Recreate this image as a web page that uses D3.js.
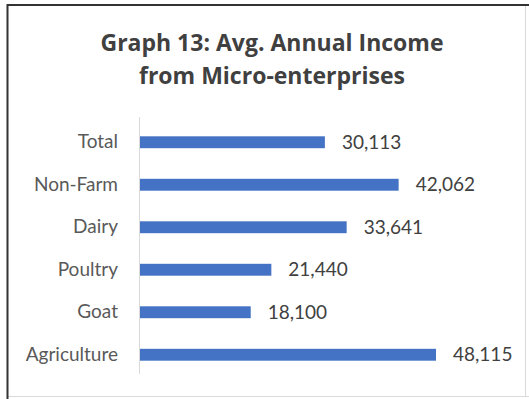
<!DOCTYPE html>
<html><head><meta charset="utf-8">
<script src="https://cdn.jsdelivr.net/npm/d3@7"></script>
<style>html,body{margin:0;padding:0;background:#fff;}svg{display:block;}</style>
</head><body>
<script>
const categories = ["Total","Non-Farm","Dairy","Poultry","Goat","Agriculture"];
const values = [30113, 42062, 33641, 21440, 18100, 48115];
const titleLines = ["Graph 13: Avg. Annual Income","from Micro-enterprises"];

const W = 529, H = 399;
const svg = d3.select("body").append("svg").attr("width", W).attr("height", H);
svg.append("rect").attr("width", W).attr("height", H).attr("fill", "#fff");

// frame
svg.append("line").attr("x1",525.5).attr("x2",525.5).attr("y1",5).attr("y2",396).attr("stroke","#d9d9d9").attr("stroke-width",1);
svg.append("line").attr("x1",7).attr("x2",529).attr("y1",396.5).attr("y2",396.5).attr("stroke","#d9d9d9").attr("stroke-width",1);
svg.append("line").attr("x1",7.5).attr("x2",7.5).attr("y1",4).attr("y2",399).attr("stroke","#333").attr("stroke-width",2);
svg.append("line").attr("x1",7).attr("x2",529).attr("y1",5).attr("y2",5).attr("stroke","#333").attr("stroke-width",2);

const font = "Lato, 'Open Sans', sans-serif";
const titleFont = "'Open Sans', Lato, sans-serif";
svg.selectAll("text.title").data(titleLines).join("text")
  .attr("class","title")
  .attr("x", 272).attr("y", (d,i) => 51 + i*33)
  .attr("text-anchor","middle")
  .attr("font-family", titleFont).attr("font-weight","bold").attr("font-size", 23)
  .attr("fill","#404040").text(d => d);

const x0 = 139;
const x = d3.scaleLinear().domain([0, 48115]).range([x0, 436]);
const y = d3.scaleBand().domain(categories).range([121, 376]).paddingInner(0.72).paddingOuter(0.36);

// axis
const yAxis = d3.axisLeft(y).tickSize(0).tickPadding(21);
const g = svg.append("g").attr("transform", `translate(${x0},0)`).call(yAxis);
g.select(".domain").attr("stroke","#d9d9d9").attr("d", "M0.5,117V374");
g.selectAll("text").attr("font-family", font).attr("font-size", 19).attr("fill","#595959");

svg.selectAll("rect.bar").data(values).join("rect")
  .attr("class","bar")
  .attr("x", x0 + 1)
  .attr("y", (d,i) => y(categories[i]))
  .attr("width", d => x(d) - x0 - 1)
  .attr("height", y.bandwidth())
  .attr("fill", "#4472c4");

svg.selectAll("text.val").data(values).join("text")
  .attr("class","val")
  .attr("x", d => x(d) + 17)
  .attr("y", (d,i) => y(categories[i]) + y.bandwidth()/2)
  .attr("dy","0.35em")
  .attr("font-family", font).attr("font-size", 19).attr("fill","#404040")
  .text(d => d3.format(",")(d));
</script>
</body></html>
